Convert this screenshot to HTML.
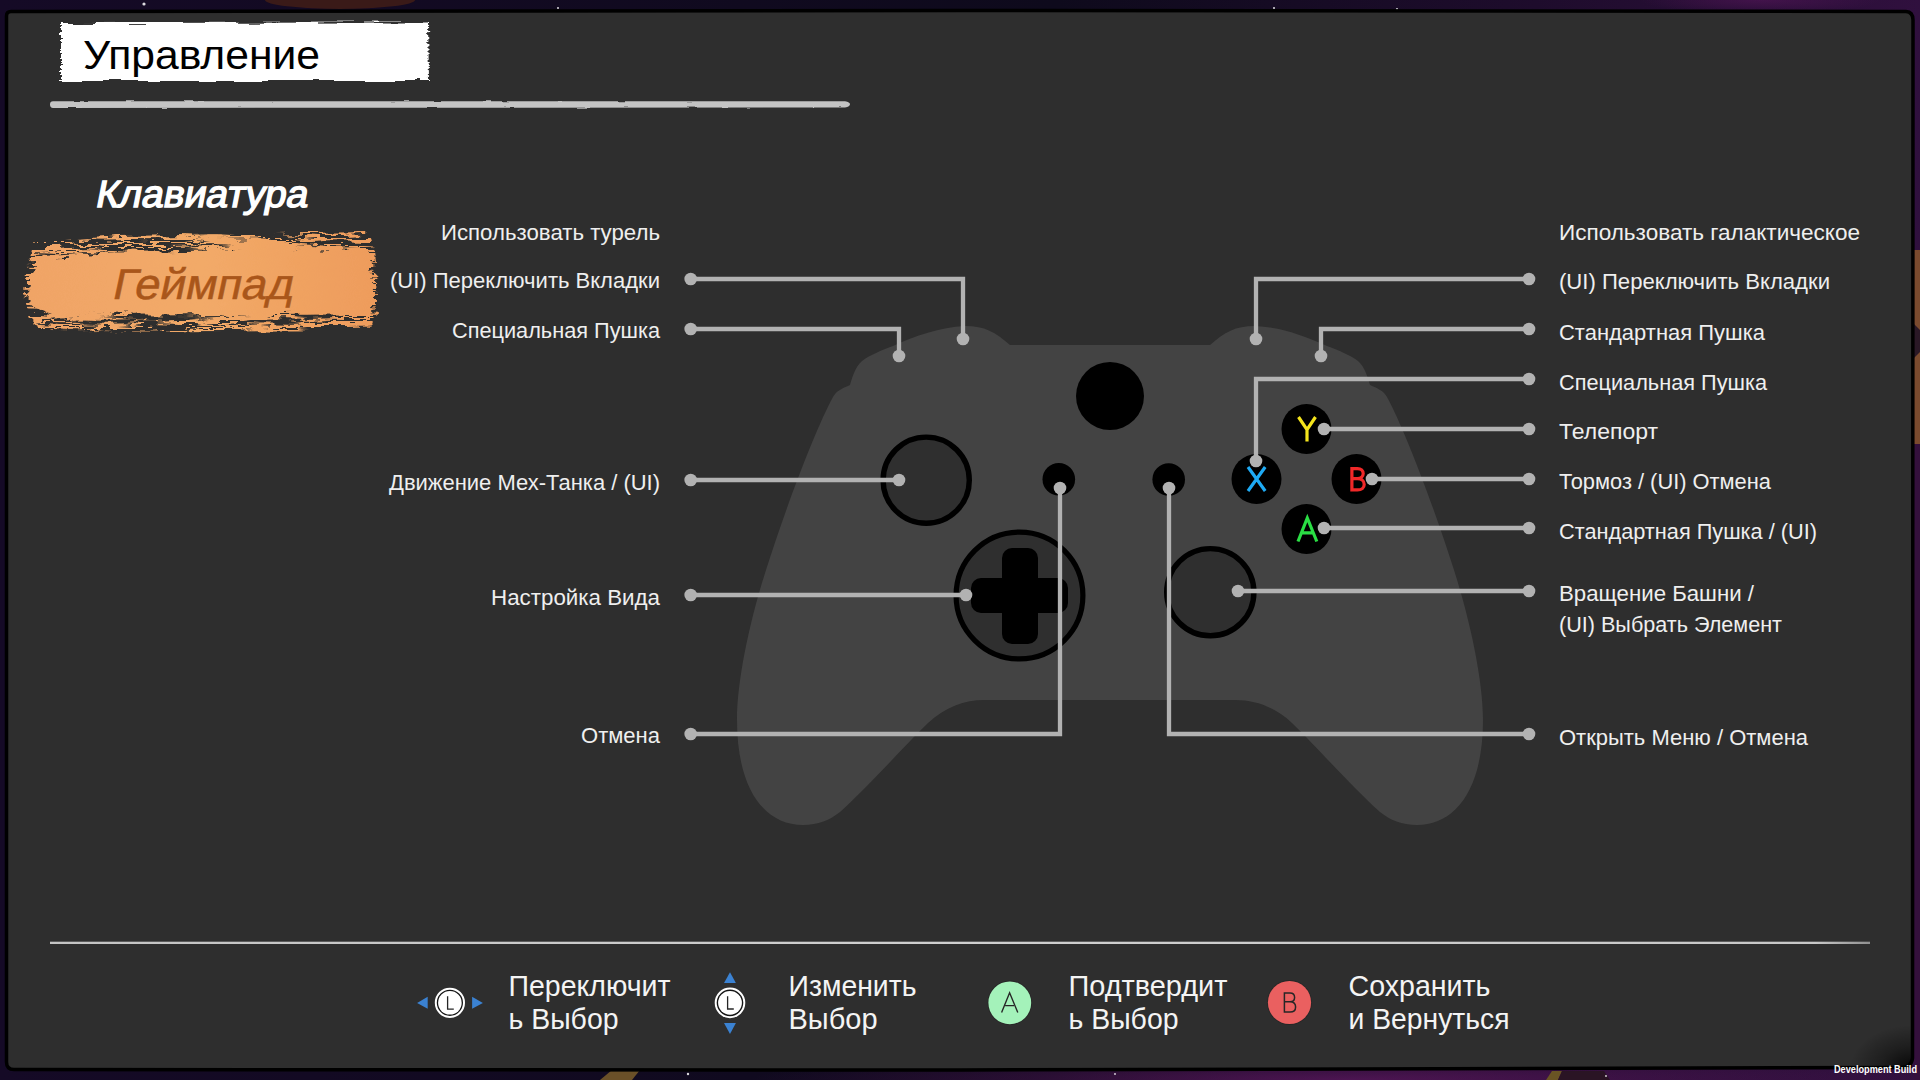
<!DOCTYPE html>
<html><head><meta charset="utf-8">
<style>
html,body{margin:0;padding:0;width:1920px;height:1080px;overflow:hidden;background:#1a0c2a;}
svg{display:block;position:absolute;left:0;top:0;}
text{font-family:"Liberation Sans",sans-serif;}
</style></head><body>
<svg width="1920" height="1080" viewBox="0 0 1920 1080">
<defs>
<linearGradient id="bg" x1="0" y1="0" x2="1" y2="0">
<stop offset="0" stop-color="#150a26"/><stop offset="0.55" stop-color="#0e0a1c"/><stop offset="0.8" stop-color="#1e0c2c"/><stop offset="1" stop-color="#30103e"/>
</linearGradient>
<linearGradient id="org" x1="0" y1="0" x2="1" y2="0">
<stop offset="0" stop-color="#f0a466"/><stop offset="0.5" stop-color="#f2aa68"/><stop offset="1" stop-color="#ee9c5c"/>
</linearGradient>
<radialGradient id="neb1" cx="0.5" cy="0.5" r="0.5">
<stop offset="0" stop-color="#6a1a6a" stop-opacity="0.8"/><stop offset="1" stop-color="#6a1a6a" stop-opacity="0"/>
</radialGradient>
<filter id="rough" x="-10%" y="-30%" width="120%" height="160%">
<feTurbulence type="fractalNoise" baseFrequency="0.04 0.12" numOctaves="3" seed="4" result="n"/>
<feDisplacementMap in="SourceGraphic" in2="n" scale="16" xChannelSelector="R" yChannelSelector="G"/>
</filter>
<filter id="dry" x="-10%" y="-30%" width="120%" height="160%">
<feTurbulence type="fractalNoise" baseFrequency="0.01 0.4" numOctaves="2" seed="9" result="n"/>
<feColorMatrix in="n" type="matrix" values="0 0 0 0 0  0 0 0 0 0  0 0 0 0 0  0 0 0 -14 7.6" result="m"/>
<feComposite in="SourceGraphic" in2="m" operator="in" result="c"/>
<feTurbulence type="fractalNoise" baseFrequency="0.04 0.12" numOctaves="3" seed="4" result="n2"/>
<feDisplacementMap in="c" in2="n2" scale="14" xChannelSelector="R" yChannelSelector="G"/>
</filter>
<filter id="wrough" x="-5%" y="-20%" width="110%" height="140%">
<feTurbulence type="fractalNoise" baseFrequency="0.03 0.45" numOctaves="2" seed="2" result="n"/>
<feDisplacementMap in="SourceGraphic" in2="n" scale="8" xChannelSelector="R" yChannelSelector="G"/>
</filter>
<filter id="lrough" x="-5%" y="-100%" width="110%" height="300%">
<feTurbulence type="fractalNoise" baseFrequency="0.06 0.3" numOctaves="2" seed="6" result="n"/>
<feDisplacementMap in="SourceGraphic" in2="n" scale="2.2" xChannelSelector="R" yChannelSelector="G" result="d"/>
<feGaussianBlur in="d" stdDeviation="0.35"/>
</filter>
<linearGradient id="bl" x1="0" y1="0" x2="1" y2="0">
<stop offset="0" stop-color="#c4c4c4"/><stop offset="0.5" stop-color="#d0d0d0"/><stop offset="0.97" stop-color="#c8c8c8"/><stop offset="1" stop-color="#909090"/>
</linearGradient>
<radialGradient id="csh" cx="1" cy="1" r="1">
<stop offset="0" stop-color="#000" stop-opacity="0.85"/><stop offset="0.5" stop-color="#000" stop-opacity="0.35"/><stop offset="1" stop-color="#000" stop-opacity="0"/>
</radialGradient>
</defs>
<rect x="0" y="0" width="1920" height="1080" fill="url(#bg)"/>
<ellipse cx="1350" cy="1080" rx="600" ry="30" fill="url(#neb1)" opacity="0.8"/>
<ellipse cx="1760" cy="0" rx="120" ry="14" fill="url(#neb1)" opacity="0.5"/>
<rect x="1912" y="250" width="8" height="194" fill="#7a4a2e"/>
<path d="M1912,322 L1920,330 L1920,352 L1912,360 Z" fill="#2a1826"/>
<ellipse cx="340" cy="0" rx="75" ry="9" fill="#3a1a18"/>
<path d="M600,1080 L612,1070 L640,1070 L632,1080 Z" fill="#6a5028"/>
<path d="M1546,1080 L1552,1071 L1562,1071 L1558,1080 Z" fill="#6a5424"/><path d="M1558,1080 L1562,1071 L1604,1071 L1610,1080 Z" fill="#2a1424"/>
<rect x="1914" y="444" width="6" height="636" fill="#34103c"/>
<g fill="#fff" opacity="0.85">
<circle cx="144" cy="4" r="1.6"/><circle cx="558" cy="8" r="1"/><circle cx="1274" cy="8" r="1"/><circle cx="1397" cy="9" r="1"/>
<circle cx="688" cy="1074" r="1.2"/><circle cx="1115" cy="1074" r="0.9"/><circle cx="1606" cy="1076" r="0.9"/>
</g>
<!-- panel -->
<path d="M6.5,16 Q6.5,11.5 11,11.5 L960,10.5 L1906,11.5 Q1913,12 1913,20 L1912.5,1058 Q1911.5,1067.5 1901,1067.5 L960,1070 L14,1069.5 Q6.5,1069.5 6.5,1062 Z" fill="#2e2e2e" stroke="#000" stroke-width="3.5"/>

<rect x="1850" y="1025" width="62" height="43" fill="url(#csh)"/>
<!-- title brush -->
<path d="M61,23 L428,22.5 L429,81 L61,81 Z" fill="#fff" filter="url(#wrough)"/>
<text x="83" y="69" font-size="41" fill="#000" textLength="237" lengthAdjust="spacingAndGlyphs">Управление</text>
<path d="M50,104.5 Q50,101.3 53,101.3 L845,101.2 Q850,102 850,104.2 Q850,106.6 845,107.4 L53,108 Q50,107.8 50,104.5Z" fill="#c4c4c4" filter="url(#lrough)"/>

<g transform="translate(94.5,207) skewX(-11)"><text x="0" y="0" font-size="38" fill="#fff" stroke="#fff" stroke-width="1.4" textLength="212" lengthAdjust="spacingAndGlyphs">Клавиатура</text></g>

<!-- orange brush -->
<path d="M24,292 Q26,262 36,242 L120,236 L368,232 Q378,250 376,282 Q380,312 370,330 L60,332 Q32,326 26,308 Z" fill="url(#org)" filter="url(#dry)"/>
<path d="M28,290 Q30,266 44,256 L120,252 L366,248 Q374,258 372,282 Q376,306 366,314 L60,316 Q36,312 30,302 Z" fill="url(#org)" filter="url(#rough)"/>
<g transform="translate(111,299) skewX(-12)"><text x="0" y="0" font-size="43" fill="#a9561a" stroke="#a9561a" stroke-width="0.5" textLength="181" lengthAdjust="spacingAndGlyphs">Геймпад</text></g>

<!-- controller body -->
<path d="M1110,345 L1010,345 C995,332 985,326 965,326 C940,327 915,336 893,346 C880,351 870,355 862,361 C855,367 852,378 850,385 C843,388 836,391 833,397 C815,430 785,510 766,570 C750,620 737,680 737,720 C737,790 765,825 803,825 C818,825 830,820 840,812 C870,785 905,745 928,723 C945,707 965,700 984,700 L1236,700 C1255,700 1275,707 1292,723 C1315,745 1350,785 1380,812 C1390,820 1402,825 1417,825 C1455,825 1483,790 1483,720 C1483,680 1470,620 1454,570 C1435,510 1405,430 1387,397 C1384,391 1377,388 1370,385 C1368,378 1365,367 1358,361 C1350,355 1340,351 1327,346 C1305,336 1280,327 1255,326 C1235,326 1225,332 1210,345 Z" fill="#434343"/>

<circle cx="1110" cy="396" r="34" fill="#000"/>
<circle cx="926.2" cy="480.2" r="43.1" fill="#2f2f2f" stroke="#000" stroke-width="5.4"/>
<circle cx="1210.3" cy="592.2" r="43.6" fill="#2f2f2f" stroke="#000" stroke-width="5.4"/>
<circle cx="1019.5" cy="595.5" r="63.4" fill="#2f2f2f" stroke="#000" stroke-width="5.2"/>
<rect x="1002" y="548" width="36" height="96" rx="10" fill="#000"/>
<rect x="971" y="578" width="97" height="35" rx="10" fill="#000"/>
<circle cx="1058.8" cy="479.2" r="16.3" fill="#000"/>
<circle cx="1168.7" cy="479.5" r="16.3" fill="#000"/>
<circle cx="1306.5" cy="429" r="25" fill="#000"/>
<circle cx="1256.5" cy="479" r="25" fill="#000"/>
<circle cx="1356.5" cy="479" r="25" fill="#000"/>
<circle cx="1306.5" cy="529" r="25" fill="#000"/>
<g fill="none" stroke-width="3.2" stroke-linejoin="miter">
<path d="M1298.5,417 L1307,429.6 L1315.5,417 M1307,429.6 V441.5" stroke="#f4e41c"/>
<path d="M1248,467 L1265.2,491 M1265.2,467 L1248,491" stroke="#1eaaf4"/>
<path d="M1351.9,468.6 H1357.5 C1361,468.6 1363.2,470.8 1363.2,473.6 C1363.2,476.4 1361,478.6 1357.5,478.6 H1351.9 M1357.5,478.6 C1361.5,478.6 1364.2,481 1364.2,484.4 C1364.2,487.8 1361.5,489.9 1357.5,489.9 H1351.9 V467" stroke="#f02828"/>
<path d="M1298,541.5 L1307.3,518 L1316.8,541.5 M1301.3,532.8 H1313.3" stroke="#2ade44"/>
</g>

<!-- connector lines -->
<g fill="none" stroke="#b2b2b2" stroke-width="4.3">
<path d="M690.7,279 H963 V339"/>
<path d="M690.7,329 H899 V356"/>
<path d="M690.7,480 H899"/>
<path d="M690.7,595 H966"/>
<path d="M690.7,734 H1060 V488"/>
<path d="M1529,279 H1256 V339"/>
<path d="M1529,329 H1321 V356"/>
<path d="M1529,379 H1256 V461"/>
<path d="M1529,429 H1324"/>
<path d="M1529,479 H1372"/>
<path d="M1529,528 H1324"/>
<path d="M1529,591 H1238"/>
<path d="M1529,734 H1169 V488"/>
</g>
<g fill="#b2b2b2">
<circle cx="690.7" cy="279" r="6.3"/><circle cx="963" cy="339" r="6.3"/>
<circle cx="690.7" cy="329" r="6.3"/><circle cx="899" cy="356" r="6.3"/>
<circle cx="690.7" cy="480" r="6.3"/><circle cx="899" cy="480" r="6.3"/>
<circle cx="690.7" cy="595" r="6.3"/><circle cx="966" cy="595" r="6.3"/>
<circle cx="690.7" cy="734" r="6.3"/><circle cx="1060" cy="488" r="6.3"/>
<circle cx="1529" cy="279" r="6.3"/><circle cx="1256" cy="339" r="6.3"/>
<circle cx="1529" cy="329" r="6.3"/><circle cx="1321" cy="356" r="6.3"/>
<circle cx="1529" cy="379" r="6.3"/><circle cx="1256" cy="461" r="6.3"/>
<circle cx="1529" cy="429" r="6.3"/><circle cx="1324" cy="429" r="6.3"/>
<circle cx="1529" cy="479" r="6.3"/><circle cx="1372" cy="479" r="6.3"/>
<circle cx="1529" cy="528" r="6.3"/><circle cx="1324" cy="528" r="6.3"/>
<circle cx="1529" cy="591" r="6.3"/><circle cx="1238" cy="591" r="6.3"/>
<circle cx="1529" cy="734" r="6.3"/><circle cx="1169" cy="488" r="6.3"/>
</g>

<!-- labels -->
<g fill="#efefef" font-size="22.5">
<text x="660" y="239.5" text-anchor="end" textLength="219" lengthAdjust="spacingAndGlyphs">Использовать турель</text>
<text x="660" y="288" text-anchor="end" textLength="270" lengthAdjust="spacingAndGlyphs">(UI) Переключить Вкладки</text>
<text x="660" y="338" text-anchor="end" textLength="208" lengthAdjust="spacingAndGlyphs">Специальная Пушка</text>
<text x="660" y="489.5" text-anchor="end" textLength="271" lengthAdjust="spacingAndGlyphs">Движение Мех-Танка / (UI)</text>
<text x="660" y="605" text-anchor="end" textLength="169" lengthAdjust="spacingAndGlyphs">Настройка Вида</text>
<text x="660" y="742.5" text-anchor="end" textLength="79" lengthAdjust="spacingAndGlyphs">Отмена</text>

<text x="1559" y="240" textLength="301" lengthAdjust="spacingAndGlyphs">Использовать галактическое</text>
<text x="1559" y="288.5" textLength="271" lengthAdjust="spacingAndGlyphs">(UI) Переключить Вкладки</text>
<text x="1559" y="339.5" textLength="206" lengthAdjust="spacingAndGlyphs">Стандартная Пушка</text>
<text x="1559" y="389.5" textLength="208" lengthAdjust="spacingAndGlyphs">Специальная Пушка</text>
<text x="1559" y="439" textLength="99" lengthAdjust="spacingAndGlyphs">Телепорт</text>
<text x="1559" y="489" textLength="212" lengthAdjust="spacingAndGlyphs">Тормоз / (UI) Отмена</text>
<text x="1559" y="539" textLength="258" lengthAdjust="spacingAndGlyphs">Стандартная Пушка / (UI)</text>
<text x="1559" y="601" textLength="195" lengthAdjust="spacingAndGlyphs">Вращение Башни /</text>
<text x="1559" y="632" textLength="223" lengthAdjust="spacingAndGlyphs">(UI) Выбрать Элемент</text>
<text x="1559" y="745" textLength="249" lengthAdjust="spacingAndGlyphs">Открыть Меню / Отмена</text>
</g>

<!-- bottom bar -->
<rect x="50" y="941.7" width="1820" height="2.3" fill="url(#bl)"/>
<g fill="#3b82d2">
<path d="M417.1,1002.9 L427.7,996.7 L427.7,1008.8 Z"/>
<path d="M482.9,1002.9 L472.1,996.7 L472.1,1008.8 Z"/>
<path d="M730,972.3 L735.9,983 L724,983 Z"/>
<path d="M730,1034.1 L735.9,1023 L724,1023 Z"/>
</g>
<g>
<circle cx="449.9" cy="1002.8" r="14.1" fill="#141414" stroke="#fff" stroke-width="2"/>
<circle cx="449.9" cy="1002.8" r="11.8" fill="#fff"/>
<path d="M447.6,996.2 V1009.2 H453.8" fill="none" stroke="#262626" stroke-width="1.3"/>
<circle cx="730" cy="1002.85" r="14.3" fill="#141414" stroke="#fff" stroke-width="2"/>
<circle cx="730" cy="1002.85" r="11.9" fill="#fff"/>
<path d="M727.6,996.2 V1009 H733.8" fill="none" stroke="#262626" stroke-width="1.3"/>
</g>
<circle cx="1009.8" cy="1002.8" r="22.2" fill="#1e1e1e" opacity="0.5"/>
<circle cx="1009.8" cy="1002.8" r="21.4" fill="#a4f2ba"/>
<path d="M1001.6,1012.6 L1009.6,992.8 L1017.8,1012.6 M1005.2,1005.6 H1014" fill="none" stroke="#262626" stroke-width="1.4"/>
<circle cx="1289.5" cy="1002.5" r="22.4" fill="#1e1e1e" opacity="0.5"/>
<circle cx="1289.5" cy="1002.5" r="21.6" fill="#ea6060"/>
<path d="M1284.4,993 H1290 C1293,993 1294.6,995 1294.6,997.4 C1294.6,999.8 1293,1001.7 1290,1001.7 H1284.4 M1290,1001.7 C1293.6,1001.7 1295.6,1003.8 1295.6,1007 C1295.6,1010.2 1293.6,1012.1 1290,1012.1 H1284.4 V992.3" fill="none" stroke="#262626" stroke-width="1.5"/>

<g fill="#f4f4f4" font-size="29.5">
<text x="508.5" y="996.3" textLength="162" lengthAdjust="spacingAndGlyphs">Переключит</text>
<text x="508.5" y="1028.7" textLength="110" lengthAdjust="spacingAndGlyphs">ь Выбор</text>
<text x="788.5" y="996.3" textLength="128" lengthAdjust="spacingAndGlyphs">Изменить</text>
<text x="788.5" y="1028.7" textLength="89" lengthAdjust="spacingAndGlyphs">Выбор</text>
<text x="1068.5" y="996.3" textLength="159" lengthAdjust="spacingAndGlyphs">Подтвердит</text>
<text x="1068.5" y="1028.7" textLength="110" lengthAdjust="spacingAndGlyphs">ь Выбор</text>
<text x="1348.5" y="996.3" textLength="142" lengthAdjust="spacingAndGlyphs">Сохранить</text>
<text x="1348.5" y="1028.7" textLength="161" lengthAdjust="spacingAndGlyphs">и Вернуться</text>
</g>
<text x="1917" y="1072.5" font-size="10" font-weight="bold" fill="#fff" text-anchor="end" textLength="83" lengthAdjust="spacingAndGlyphs">Development Build</text>
</svg>
</body></html>
